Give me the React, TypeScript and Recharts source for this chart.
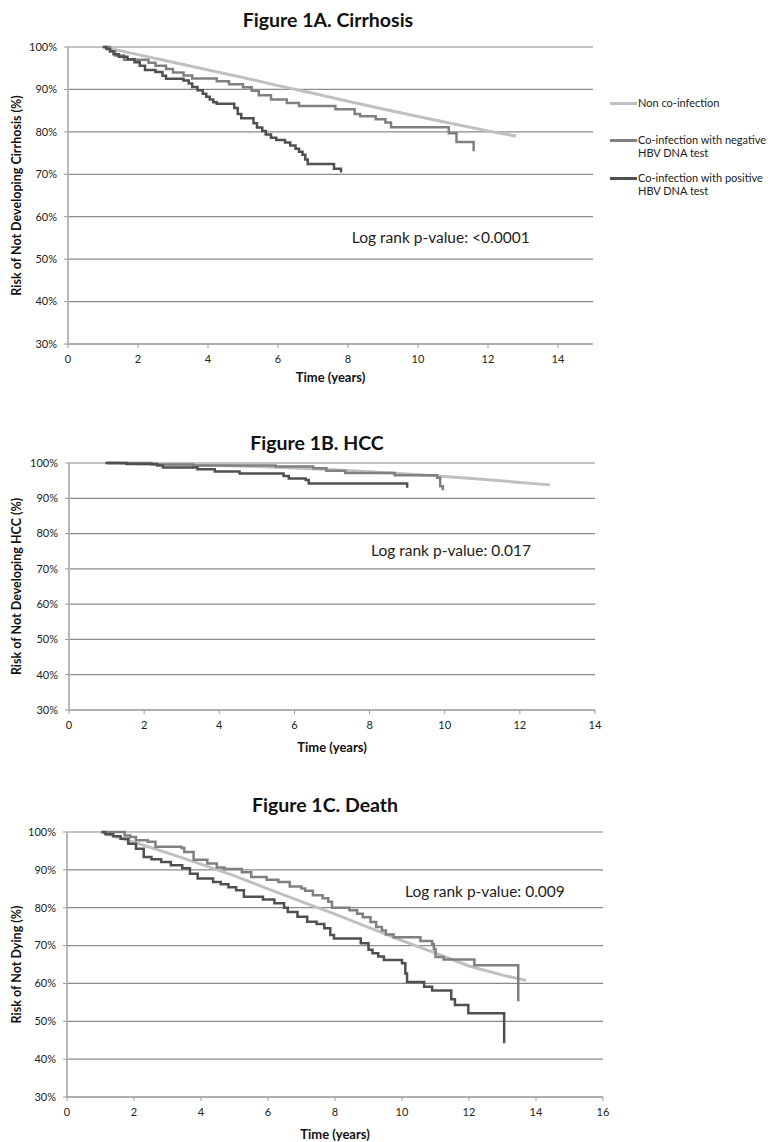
import { LineChart, Line, XAxis, YAxis, CartesianGrid, ReferenceDot } from "recharts";

const FONT = "Lato, 'Open Sans', sans-serif";

const SERIES_NAMES = [
  "Non co-infection",
  "Co-infection with negative HBV DNA test",
  "Co-infection with positive HBV DNA test",
];
const COLORS = ["#c0c0c0", "#808080", "#505050"];
const Y_TICKS = [30, 40, 50, 60, 70, 80, 90, 100];

// [years, % event free]
const cirrhosisNon = [
  [1, 100], [2, 98.2], [3, 96.4], [4, 94.6], [5, 92.8], [6, 90.9], [7, 89.1],
  [8, 87.2], [9, 85.4], [10, 83.6], [11, 81.9], [12, 80.2], [12.8, 79.0],
];
const cirrhosisNeg = [
  [1.04, 100], [1.2, 99.0], [1.35, 98.0], [1.6, 97.0], [2.3, 96.3], [2.5, 95.6],
  [2.8, 94.8], [3.0, 94.0], [3.3, 93.3], [3.55, 92.6], [4.25, 91.9], [4.6, 91.2],
  [5.0, 90.5], [5.25, 89.7], [5.45, 88.6], [5.8, 87.6], [6.25, 86.8], [6.6, 86.1],
  [7.64, 85.3], [8.19, 84.2], [8.35, 83.7], [8.79, 83.0], [9.07, 82.2], [9.23, 81.1],
  [10.88, 79.7], [11.1, 77.6], [11.59, 75.4],
];
const cirrhosisPos = [
  [0.99, 100], [1.1, 99.5], [1.2, 99.0], [1.3, 98.3], [1.45, 97.7], [1.7, 97.1],
  [1.9, 96.4], [2.05, 95.6], [2.2, 94.6], [2.5, 94.1], [2.7, 93.2], [2.8, 92.5],
  [3.3, 92.1], [3.45, 91.4], [3.55, 90.6], [3.7, 89.8], [3.85, 89.0], [3.95, 88.3],
  [4.05, 87.6], [4.15, 87.0], [4.25, 86.6], [4.75, 85.6], [4.85, 84.2], [4.95, 83.2],
  [5.3, 82.0], [5.4, 81.0], [5.55, 80.2], [5.65, 79.4], [5.8, 78.6], [5.95, 78.1],
  [6.2, 77.5], [6.35, 76.8], [6.5, 76.0], [6.6, 75.3], [6.7, 74.6], [6.78, 73.5],
  [6.85, 72.4], [7.6, 71.3], [7.8, 70.4],
];

const hccNon = [
  [1, 100], [2, 99.8], [3, 99.6], [4, 99.3], [5, 99.0], [6, 98.6], [7, 98.1],
  [8, 97.5], [9, 96.9], [10, 96.2], [11, 95.4], [12, 94.5], [12.8, 93.8],
];
const hccNeg = [
  [1, 100], [2.2, 99.6], [3.3, 99.3], [5.5, 99.0], [6.5, 98.5], [6.85, 97.8],
  [7.35, 97.2], [8.67, 96.5], [9.8, 95.8], [9.88, 93.4], [9.95, 92.3],
];
const hccPos = [
  [0.97, 100], [1.53, 99.7], [2.35, 99.3], [2.5, 98.7], [3.42, 98.2], [3.88, 97.6],
  [4.54, 97.0], [5.71, 96.3], [5.85, 95.6], [6.3, 95.2], [6.38, 94.2], [9.0, 93.0],
];

const deathNon = [
  [1, 100], [2, 97.3], [3, 94.5], [4, 91.5], [5, 88.4], [6, 85.0], [7, 81.6],
  [8, 78.3], [9, 74.8], [10, 71.3], [11, 68.0], [12, 64.6], [13, 62.2], [13.7, 60.8],
];
const deathNeg = [
  [1.2, 100], [1.72, 99.1], [1.89, 98.7], [2.06, 97.8], [2.41, 97.4], [2.64, 96.1],
  [3.42, 95.8], [3.5, 94.7], [3.78, 92.7], [4.19, 91.7], [4.47, 90.6], [4.7, 90.2],
  [5.22, 89.4], [5.5, 88.1], [5.96, 87.4], [6.31, 86.8], [6.65, 85.6], [7.0, 85.1],
  [7.11, 84.5], [7.34, 83.3], [7.63, 82.5], [7.8, 81.6], [7.91, 80.0], [8.43, 79.3],
  [8.66, 78.4], [8.83, 77.5], [9.06, 76.2], [9.23, 74.9], [9.4, 74.0], [9.52, 72.9],
  [9.75, 72.2], [10.55, 71.2], [10.9, 70.4], [10.95, 69.1], [11.0, 67.0], [11.24, 66.3],
  [12.16, 64.8], [13.47, 55.3],
];
const deathPos = [
  [1.03, 100], [1.15, 99.4], [1.38, 98.9], [1.6, 98.2], [1.83, 96.9], [2.06, 95.6],
  [2.29, 93.4], [2.52, 92.8], [2.81, 92.1], [3.1, 91.2], [3.44, 90.4], [3.67, 89.0],
  [3.9, 87.7], [4.36, 86.8], [4.59, 86.2], [4.82, 85.4], [5.05, 84.6], [5.28, 82.9],
  [5.85, 82.2], [6.19, 81.2], [6.48, 80.0], [6.59, 78.9], [6.88, 77.6], [7.17, 76.3],
  [7.45, 75.7], [7.68, 74.6], [7.86, 72.8], [7.97, 71.9], [8.77, 70.6], [9.0, 68.9],
  [9.12, 68.0], [9.29, 67.1], [9.46, 66.2], [10.0, 65.3], [10.1, 62.6], [10.15, 60.4],
  [10.66, 59.1], [10.9, 58.1], [11.47, 55.8], [11.58, 54.3], [11.98, 52.1], [13.05, 44.2],
];

const toPts = (arr: number[][]) => arr.map(([t, v]) => ({ t, v }));

type PanelProps = {
  top: number;
  height: number;
  marginTop: number;
  marginRight: number;
  marginBottom: number;
  yAxisWidth: number;
  xAxisHeight: number;
  xLabelOffset: number;
  xMax: number;
  xTicks: number[];
  title: string;
  titleX: number;
  titleY: number;
  yLabel: string;
  series: number[][][];
  pText: string;
  pAt: [number, number];
};

function KMPanel(p: PanelProps) {
  return (
    <div style={{ position: "absolute", left: 0, top: p.top, width: 768, height: p.height }}>
      <div
        style={{
          position: "absolute",
          left: p.titleX - 200,
          top: p.titleY - p.top - 12,
          width: 400,
          textAlign: "center",
          fontFamily: FONT,
          fontWeight: 700,
          fontSize: 19.5,
          lineHeight: "24px",
          color: "#111",
        }}
      >
        {p.title}
      </div>
      <LineChart
        width={768}
        height={p.height}
        margin={{ top: p.marginTop, right: p.marginRight, bottom: p.marginBottom, left: 0 }}
        style={{ fontFamily: FONT }}
      >
        <CartesianGrid vertical={false} stroke="#8a8a8a" strokeWidth={1.2} />
        <XAxis
          type="number"
          dataKey="t"
          domain={[0, p.xMax]}
          ticks={p.xTicks}
          height={p.xAxisHeight}
          tickSize={4}
          tickMargin={7}
          stroke="#9a9a9a"
          tick={{ fontSize: 11, fill: "#222" }}
          label={{
            value: "Time (years)",
            position: "insideBottom",
            offset: p.xLabelOffset,
            style: { fontSize: 13, fontWeight: 700, fill: "#111" },
          }}
        />
        <YAxis
          type="number"
          domain={[30, 100]}
          ticks={Y_TICKS}
          width={p.yAxisWidth}
          tickSize={4}
          tickMargin={7}
          axisLine={{ stroke: "#b8b8b8", strokeWidth: 2 }}
          tickLine={{ stroke: "#9a9a9a" }}
          tick={{ fontSize: 11, fill: "#222" }}
          tickFormatter={(v) => `${v}%`}
          label={{
            value: p.yLabel,
            angle: -90,
            position: "insideLeft",
            offset: 17,
            style: { textAnchor: "middle", fontSize: 12.5, fontWeight: 700, fill: "#111" },
          }}
        />
        {p.series.map((s, i) => (
          <Line
            key={i}
            data={toPts(s)}
            dataKey="v"
            name={SERIES_NAMES[i]}
            type={i === 0 ? "linear" : "stepAfter"}
            stroke={COLORS[i]}
            strokeWidth={i === 0 ? 3 : 2.5}
            dot={false}
            activeDot={false}
            isAnimationActive={false}
          />
        ))}
        <ReferenceDot
          x={p.pAt[0]}
          y={p.pAt[1]}
          r={0}
          fill="none"
          stroke="none"
          label={{
            value: p.pText,
            position: "right",
            offset: 0,
            style: { fontSize: 15.5, fill: "#222" },
          }}
        />
      </LineChart>
    </div>
  );
}

function LegendBox() {
  const heights = [37, 38, 30];
  return (
    <div style={{ position: "absolute", left: 610, top: 96, fontFamily: FONT }}>
      {SERIES_NAMES.map((name, i) => (
        <div key={name} style={{ display: "flex", alignItems: "flex-start", height: heights[i] }}>
          <div style={{ width: 27, height: 3, marginTop: 5.5, background: COLORS[i] }} />
          <div style={{ width: 132, marginLeft: 1, fontSize: 11, lineHeight: "13px", color: "#222" }}>
            {name}
          </div>
        </div>
      ))}
    </div>
  );
}

export default function App() {
  return (
    <div
      style={{
        position: "absolute",
        left: 0,
        top: 0,
        width: 768,
        height: 1142,
        background: "#fff",
        overflow: "hidden",
      }}
    >
      <KMPanel
        top={0}
        height={390}
        marginTop={47}
        marginRight={175}
        marginBottom={6}
        yAxisWidth={68}
        xAxisHeight={40}
        xLabelOffset={2.5}
        xMax={15}
        xTicks={[0, 2, 4, 6, 8, 10, 12, 14]}
        title="Figure 1A. Cirrhosis"
        titleX={328}
        titleY={20}
        yLabel="Risk of Not Developing Cirrhosis (%)"
        series={[cirrhosisNon, cirrhosisNeg, cirrhosisPos]}
        pText="Log rank p-value: <0.0001"
        pAt={[8.11, 55.2]}
      />
      <LegendBox />
      <KMPanel
        top={420}
        height={340}
        marginTop={43}
        marginRight={173}
        marginBottom={4}
        yAxisWidth={69}
        xAxisHeight={46}
        xLabelOffset={4.5}
        xMax={14}
        xTicks={[0, 2, 4, 6, 8, 10, 12, 14]}
        title="Figure 1B. HCC"
        titleX={317}
        titleY={443}
        yLabel="Risk of Not Developing HCC (%)"
        series={[hccNon, hccNeg, hccPos]}
        pText="Log rank p-value: 0.017"
        pAt={[8.04, 75.1]}
      />
      <KMPanel
        top={790}
        height={352}
        marginTop={42}
        marginRight={165}
        marginBottom={1}
        yAxisWidth={67}
        xAxisHeight={44}
        xLabelOffset={2.5}
        xMax={16}
        xTicks={[0, 2, 4, 6, 8, 10, 12, 14, 16]}
        title="Figure 1C. Death"
        titleX={325}
        titleY={805}
        yLabel="Risk of Not Dying (%)"
        series={[deathNon, deathNeg, deathPos]}
        pText="Log rank p-value: 0.009"
        pAt={[10.09, 84.2]}
      />
    </div>
  );
}
